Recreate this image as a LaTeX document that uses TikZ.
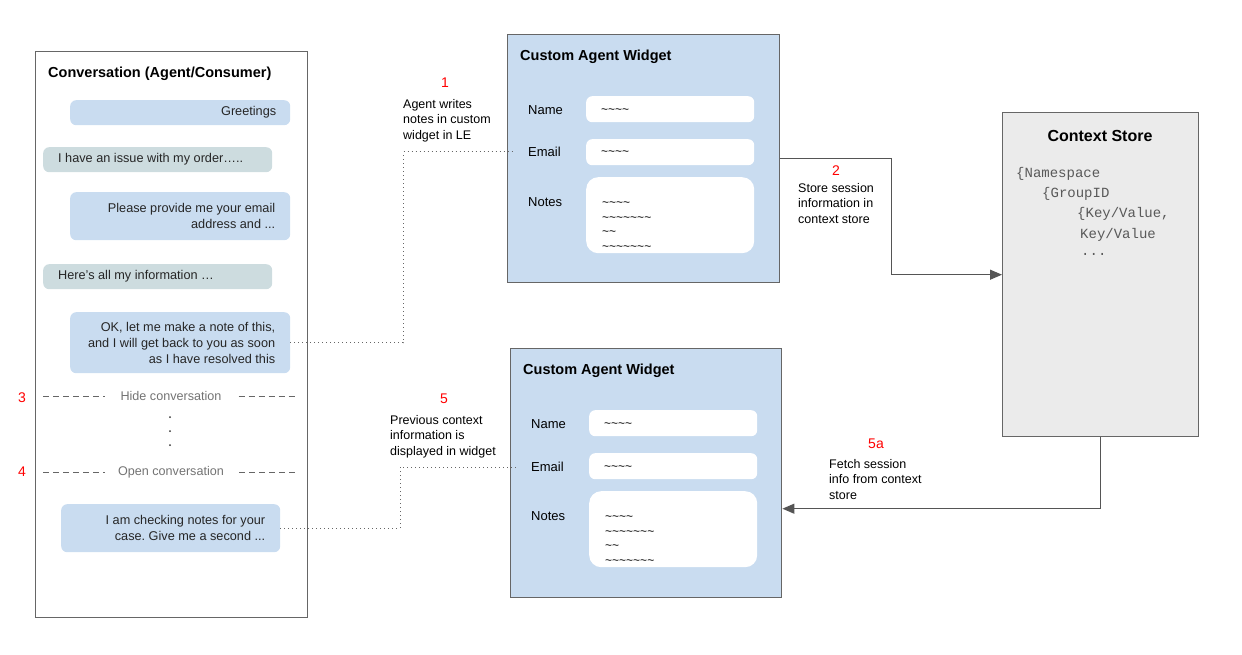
\documentclass[tikz,border=0pt]{standalone}
\usepackage{fontspec}
\setmainfont{Liberation Sans}
\setmonofont{Liberation Mono}
\usepackage{tikz}
\usetikzlibrary{calc,positioning,arrows.meta}
\frenchspacing

\definecolor{agentblue}{HTML}{C9DCF0}
\definecolor{custgray}{HTML}{CDDCDF}
\definecolor{storegray}{HTML}{EBEBEB}
\definecolor{edgegray}{HTML}{666666}
\definecolor{linkgray}{HTML}{555555}
\definecolor{stepred}{HTML}{FF0000}

\newcommand{\tildes}[1]{\foreach \k in {1,...,#1}{\textasciitilde}}

\tikzset{
  panel/.style={draw=edgegray, line width=1.4pt, anchor=north west, inner sep=0pt},
  msg/.style={rounded corners=6pt, anchor=north west, inner ysep=0pt, font=\fontsize{12.7}{16}\selectfont, text=black!85},
  agentmsg/.style={msg, fill=agentblue, align=flush right},
  custmsg/.style={msg, fill=custgray, align=flush left},
  title/.style={font=\bfseries\fontsize{14.5}{16}\selectfont, anchor=west, inner sep=0pt},
  fieldname/.style={font=\fontsize{13}{16}\selectfont, anchor=west, inner sep=0pt},
  field/.style={fill=white, rounded corners=6pt, anchor=north west, minimum width=168pt, inner sep=0pt},
  tilde/.style={font=\fontsize{12}{14.5}\selectfont, anchor=west, inner sep=0pt, align=flush left},
  stepnum/.style={text=stepred, font=\fontsize{14}{16}\selectfont, inner sep=0pt},
  note/.style={font=\fontsize{12.5}{15.5}\selectfont, align=flush left, anchor=north west, inner sep=0pt},
  divider/.style={text=black!55, font=\fontsize{12.6}{16}\selectfont, inner sep=0pt},
  sepline/.style={draw=black!60, line width=1pt, dash pattern=on 6pt off 4pt},
  dotlink/.style={draw=black!60, line width=1pt, dash pattern=on 1pt off 3pt},
  flow/.style={draw=linkgray, line width=1.2pt, -{Triangle[length=12pt,width=10pt]}},
  storeline/.style={font=\ttfamily\fontsize{14}{16}\selectfont, text=black!65, anchor=west, inner sep=0pt}
}

\begin{document}
\begin{tikzpicture}[x=1pt, y=-1pt]
  \useasboundingbox (0,0) rectangle (1242,655);

  % conversation panel
  \node (convo) [panel, minimum width=272pt, minimum height=566pt] at (35,51) {};
  \node (convotitle) [title] at (48,74) {Conversation (Agent/Consumer)};

  \node (greet) [agentmsg, text width=192pt, inner xsep=14pt, minimum height=25pt] at (70,100) {Greetings};
  \node (issue) [custmsg, text width=199pt, inner xsep=15pt, minimum height=25pt] at (43,147) {I have an issue with my order…..};
  \node (askmail) [agentmsg, text width=190pt, inner xsep=15pt, minimum height=48pt] at (70,192) {Please provide me your email\\address and ...};
  \node (allinfo) [custmsg, text width=199pt, inner xsep=15pt, minimum height=25pt] at (43,264) {Here’s all my information …};
  \node (okmsg) [agentmsg, text width=190pt, inner xsep=15pt, minimum height=61pt] at (70,312) {OK, let me make a note of this,\\and I will get back to you as soon\\as I have resolved this};

  \node (hide) [divider] at (171,396) {Hide conversation};
  \draw[sepline] (43,396) -- ([xshift=-15pt]hide.west);
  \draw[sepline] ([xshift=17pt]hide.east) -- (296,396);
  \foreach \y in {417,431,445}
    \fill[black!80] (170,\y) circle (1pt);
  \node (open) [divider] at (171,472) {Open conversation};
  \draw[sepline] (43,472) -- ([xshift=-13pt]open.west);
  \draw[sepline] ([xshift=15pt]open.east) -- (296,472);

  \node (checkmsg) [agentmsg, text width=189pt, inner xsep=15pt, minimum height=48pt] at (61,504) {I am checking notes for your\\case. Give me a second ...};

  \node (n3) [stepnum] at (22,398) {3};
  \node (n4) [stepnum] at (22,472) {4};

  % widget, write side
  \node (wtop) [panel, fill=agentblue, draw=black!60, minimum width=272pt, minimum height=248pt] at (507,34) {};
  \node (wtoptitle) [title] at (520,57) {Custom Agent Widget};
  \node (tname) [fieldname] at (528,110) {Name};
  \node (temail) [fieldname] at (528,152) {Email};
  \node (tnotes) [fieldname] at (528,202) {Notes};
  \node (tnamef) [field, minimum height=26pt] at (586,96) {};
  \node (temailf) [field, minimum height=26pt] at (586,139) {};
  \node (tnotesf) [field, minimum height=76pt, rounded corners=12pt] at (586,177) {};
  \node [tilde] at (601,111) {\tildes{4}};
  \node [tilde] at (601,153) {\tildes{4}};
  \node [tilde, anchor=north west] at (602,202) {\tildes{4}\\\tildes{7}\\\tildes{2}\\\tildes{7}};

  % widget, read side
  \node (wbot) [panel, fill=agentblue, draw=black!60, minimum width=271pt, minimum height=249pt] at (510,348) {};
  \node (wbottitle) [title] at (523,371) {Custom Agent Widget};
  \node (bname) [fieldname] at (531,424) {Name};
  \node (bemail) [fieldname] at (531,467) {Email};
  \node (bnotes) [fieldname] at (531,516) {Notes};
  \node (bnamef) [field, minimum height=26pt] at (589,410) {};
  \node (bemailf) [field, minimum height=26pt] at (589,453) {};
  \node (bnotesf) [field, minimum height=76pt, rounded corners=12pt] at (589,491) {};
  \node [tilde] at (604,425) {\tildes{4}};
  \node [tilde] at (604,468) {\tildes{4}};
  \node [tilde, anchor=north west] at (605,516) {\tildes{4}\\\tildes{7}\\\tildes{2}\\\tildes{7}};

  % context store
  \node (store) [panel, fill=storegray, minimum width=196pt, minimum height=324pt] at (1002,112) {};
  \node (storetitle) [font=\bfseries\fontsize{16}{18}\selectfont, inner sep=0pt] at (1100,136) {Context Store};
  \node [storeline] at (1016,174) {\{Namespace};
  \node [storeline] at (1042,194) {\{GroupID};
  \node [storeline] at (1077,214) {\{Key/Value,};
  \node [storeline] at (1080,235) {Key/Value};
  \node [storeline] at (1081,254) {...};

  % step labels
  \node (n1) [stepnum] at (445,83) {1};
  \node (note1) [note] at (403,99) {Agent writes\\notes in custom\\widget in LE};
  \node (n2) [stepnum] at (836,171) {2};
  \node (note2) [note] at (798,183) {Store session\\information in\\context store};
  \node (n5) [stepnum] at (444,399) {5};
  \node (note5) [note] at (390,415) {Previous context\\information is\\displayed in widget};
  \node (n5a) [stepnum] at (876,444) {5a};
  \node (note5a) [note] at (829,459) {Fetch session\\info from context\\store};

  % connectors
  \draw[dotlink] (okmsg.east) -- ++(113,0) |- ([xshift=-13pt]temail.west);
  \draw[dotlink] (checkmsg.east) -- ++(120,0) |- ([xshift=-15pt]bemail.west);
  \draw[flow] (wtop.east) -- ++(111,0) |- (store.west);
  \draw[flow] (store.south) |- ($(wbot.east)+(0,35.5)$);
\end{tikzpicture}
\end{document}
